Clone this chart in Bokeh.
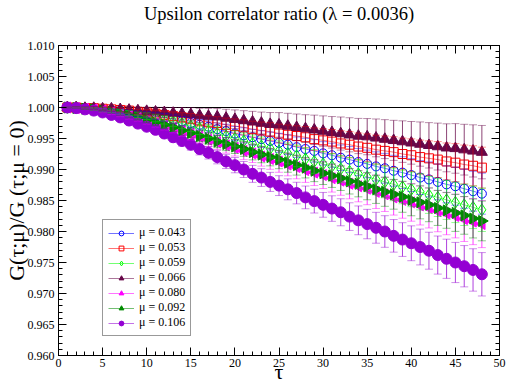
import numpy as np
from bokeh.plotting import figure
from bokeh.models import (ColumnDataSource, Whisker, TeeHead, LinearAxis, Span,
                          Legend, LegendItem, SingleIntervalTicker, PrintfTickFormatter, Range1d,
                          CustomJSTickFormatter)
from bokeh.embed import file_html
from bokeh.resources import INLINE

# ---------------- data ----------------
tau = list(range(1, 49))
series_labels = ["μ = 0.043", "μ = 0.053", "μ = 0.059", "μ = 0.066",
                 "μ = 0.080", "μ = 0.092", "μ = 0.106"]

vals_043 = [1.0000, 1.0000, 0.9999, 0.9998, 0.9997, 0.9996, 0.9994, 0.9992, 0.9990, 0.9988,
            0.9986, 0.9984, 0.9981, 0.9978, 0.9975, 0.9972, 0.9969, 0.9965, 0.9962, 0.9958,
            0.9955, 0.9952, 0.9949, 0.9946, 0.9943, 0.9940, 0.9936, 0.9933, 0.9930, 0.9926,
            0.9923, 0.9919, 0.9916, 0.9912, 0.9909, 0.9905, 0.9902, 0.9898, 0.9895, 0.9891,
            0.9887, 0.9884, 0.9880, 0.9876, 0.9873, 0.9869, 0.9865, 0.9861]
vals_053 = [1.0000, 1.0000, 0.9999, 0.9999, 0.9998, 0.9997, 0.9996, 0.9995, 0.9993, 0.9992,
            0.9990, 0.9988, 0.9986, 0.9984, 0.9982, 0.9979, 0.9977, 0.9975, 0.9972, 0.9970,
            0.9968, 0.9965, 0.9963, 0.9961, 0.9958, 0.9956, 0.9954, 0.9952, 0.9949, 0.9947,
            0.9945, 0.9942, 0.9940, 0.9937, 0.9935, 0.9932, 0.9930, 0.9928, 0.9925, 0.9923,
            0.9920, 0.9918, 0.9916, 0.9913, 0.9911, 0.9908, 0.9906, 0.9903]
vals_059 = [1.0000, 1.0000, 0.9999, 0.9998, 0.9997, 0.9995, 0.9993, 0.9991, 0.9988, 0.9986,
            0.9983, 0.9980, 0.9977, 0.9974, 0.9970, 0.9966, 0.9962, 0.9958, 0.9954, 0.9950,
            0.9946, 0.9942, 0.9938, 0.9934, 0.9930, 0.9926, 0.9922, 0.9917, 0.9913, 0.9909,
            0.9905, 0.9901, 0.9897, 0.9893, 0.9888, 0.9884, 0.9880, 0.9876, 0.9872, 0.9868,
            0.9864, 0.9859, 0.9855, 0.9851, 0.9847, 0.9843, 0.9839, 0.9835]
vals_066 = [1.0000, 1.0000, 0.9999, 0.9999, 0.9998, 0.9998, 0.9997, 0.9996, 0.9995, 0.9994,
            0.9993, 0.9992, 0.9991, 0.9990, 0.9989, 0.9987, 0.9986, 0.9985, 0.9983, 0.9981,
            0.9979, 0.9977, 0.9975, 0.9973, 0.9972, 0.9970, 0.9968, 0.9966, 0.9964, 0.9962,
            0.9960, 0.9958, 0.9956, 0.9954, 0.9953, 0.9951, 0.9949, 0.9947, 0.9945, 0.9943,
            0.9941, 0.9939, 0.9937, 0.9935, 0.9934, 0.9932, 0.9930, 0.9928]
vals_080 = [1.0000, 0.9999, 0.9998, 0.9997, 0.9995, 0.9992, 0.9989, 0.9986, 0.9983, 0.9979,
            0.9975, 0.9971, 0.9967, 0.9962, 0.9957, 0.9953, 0.9948, 0.9944, 0.9939, 0.9935,
            0.9930, 0.9926, 0.9921, 0.9917, 0.9913, 0.9908, 0.9904, 0.9899, 0.9895, 0.9891,
            0.9886, 0.9882, 0.9877, 0.9873, 0.9869, 0.9864, 0.9860, 0.9855, 0.9851, 0.9847,
            0.9842, 0.9838, 0.9833, 0.9829, 0.9825, 0.9820, 0.9816, 0.9812]
vals_092 = [1.0000, 0.9999, 0.9998, 0.9997, 0.9995, 0.9993, 0.9990, 0.9987, 0.9984, 0.9980,
            0.9976, 0.9972, 0.9968, 0.9963, 0.9959, 0.9954, 0.9950, 0.9945, 0.9941, 0.9937,
            0.9933, 0.9928, 0.9924, 0.9920, 0.9916, 0.9911, 0.9907, 0.9903, 0.9898, 0.9894,
            0.9890, 0.9886, 0.9881, 0.9877, 0.9873, 0.9868, 0.9864, 0.9860, 0.9856, 0.9851,
            0.9847, 0.9843, 0.9838, 0.9834, 0.9830, 0.9826, 0.9821, 0.9817]
vals_106 = [1.0000, 0.9999, 0.9997, 0.9995, 0.9992, 0.9988, 0.9984, 0.9979, 0.9974, 0.9969,
            0.9964, 0.9958, 0.9952, 0.9946, 0.9940, 0.9933, 0.9927, 0.9920, 0.9913, 0.9907,
            0.9900, 0.9893, 0.9887, 0.9880, 0.9874, 0.9868, 0.9862, 0.9855, 0.9849, 0.9843,
            0.9837, 0.9831, 0.9824, 0.9818, 0.9812, 0.9806, 0.9800, 0.9793, 0.9787, 0.9781,
            0.9775, 0.9769, 0.9762, 0.9756, 0.9750, 0.9744, 0.9738, 0.9731]

# error bars, in units of 1e-4
err_043 = [0.3, 0.7, 1.2, 1.8, 2.2, 2.7, 3.2, 3.9, 4.4, 5.1, 5.5, 6.2, 7.0, 7.5, 8.4, 8.8,
           9.7, 10.1, 11.0, 11.5, 12.3, 12.8, 13.6, 14.4, 15.3, 15.9, 16.4, 17.3, 18.1, 18.9,
           19.4, 20.6, 21.0, 21.9, 22.3, 23.5, 24.0, 24.9, 25.6, 26.5, 27.3, 28.2, 28.9, 29.8,
           30.6, 31.5, 32.2, 33.1]
err_053 = [0.3, 0.7, 1.3, 1.7, 2.3, 2.6, 3.3, 4.0, 4.3, 5.0, 5.6, 6.3, 6.9, 7.6, 8.3, 8.9,
           9.6, 10.2, 10.9, 11.6, 12.2, 12.9, 13.5, 14.5, 15.2, 15.8, 16.5, 17.2, 18.2, 18.8,
           19.5, 20.5, 21.1, 21.8, 22.4, 23.4, 24.1, 24.8, 25.7, 26.4, 27.4, 28.1, 29.0, 29.7,
           30.7, 31.4, 32.3, 33.0]
err_059 = [0.4, 0.7, 1.4, 1.8, 2.5, 2.8, 3.5, 4.2, 4.6, 5.3, 6.0, 6.7, 7.4, 8.1, 8.8, 9.5,
           10.2, 10.9, 11.6, 12.3, 13.0, 13.7, 14.4, 15.4, 16.1, 16.8, 17.5, 18.2, 19.3, 20.0,
           20.7, 21.7, 22.4, 23.1, 23.8, 24.9, 25.6, 26.3, 27.3, 28.0, 29.1, 29.8, 30.8, 31.5,
           32.6, 33.3, 34.3, 35.0]
err_066 = [0.4, 0.9, 1.7, 2.2, 3.0, 3.4, 4.3, 5.2, 5.6, 6.5, 7.3, 8.2, 9.0, 9.9, 10.8, 11.6,
           12.5, 13.3, 14.2, 15.1, 15.9, 16.8, 17.6, 18.9, 19.8, 20.6, 21.5, 22.4, 23.7, 24.5,
           25.4, 26.7, 27.5, 28.4, 29.2, 30.5, 31.4, 32.3, 33.5, 34.4, 35.7, 36.6, 37.8, 38.7,
           40.0, 40.9, 42.1, 43.0]
err_080 = [0.4, 0.8, 1.5, 1.9, 2.7, 3.0, 3.8, 4.6, 4.9, 5.7, 6.5, 7.2, 8.0, 8.7, 9.5, 10.3,
           11.0, 11.8, 12.5, 13.3, 14.1, 14.8, 15.6, 16.7, 17.5, 18.2, 19.0, 19.8, 20.9, 21.7,
           22.4, 23.6, 24.3, 25.1, 25.8, 27.0, 27.7, 28.5, 29.6, 30.4, 31.5, 32.3, 33.4, 34.2,
           35.3, 36.1, 37.2, 38.0]
err_092 = [0.3, 0.6, 1.3, 1.6, 2.2, 2.6, 3.2, 3.8, 4.2, 4.8, 5.4, 6.1, 6.7, 7.4, 8.0, 8.6,
           9.3, 9.9, 10.6, 11.2, 11.8, 12.5, 13.1, 14.1, 14.7, 15.4, 16.0, 16.6, 17.6, 18.2,
           18.9, 19.8, 20.5, 21.1, 21.8, 22.7, 23.4, 24.0, 25.0, 25.6, 26.6, 27.2, 28.2, 28.8,
           29.8, 30.4, 31.4, 32.0]
err_106 = [0.4, 0.8, 1.3, 1.8, 2.4, 2.9, 3.5, 4.1, 4.6, 5.3, 5.9, 6.7, 7.3, 8.1, 8.7, 9.5,
           10.1, 10.9, 11.5, 12.3, 12.9, 13.7, 14.3, 15.4, 16.0, 16.9, 17.4, 18.3, 19.2, 20.0,
           20.6, 21.8, 22.3, 23.2, 23.7, 24.9, 25.5, 26.3, 27.2, 28.1, 28.9, 29.8, 30.7, 31.6,
           32.4, 33.3, 34.2, 35.0]

title_text = "Upsilon correlator ratio (λ = 0.0036)"
x_label = "τ"
y_label = "G(τ;μ)/G (τ;μ = 0)"

# ---------------- figure ----------------
SERIF = "Liberation Serif"
p = figure(width=508, height=386, output_backend="svg", toolbar_location=None,
           x_range=Range1d(0, 50), y_range=Range1d(0.960, 1.010),
           min_border_left=57, min_border_right=9, min_border_top=45, min_border_bottom=30,
           x_axis_location=None, y_axis_location=None)
p.xgrid.visible = False
p.ygrid.visible = False
p.outline_line_color = "black"
p.outline_line_width = 1
p.background_fill_color = "white"
p.border_fill_color = "white"

p.title.text = title_text
p.title.align = "center"
p.title.text_font = SERIF
p.title.text_font_size = "18.5px"
p.title.text_font_style = "normal"
p.title.text_color = "black"
p.title.standoff = 0


def make_axis(kind, show_labels):
    ax = LinearAxis()
    if kind == "x":
        ax.ticker = SingleIntervalTicker(interval=5, num_minor_ticks=5)
        ax.formatter = PrintfTickFormatter(format="%d")
    else:
        ax.ticker = SingleIntervalTicker(interval=0.005, num_minor_ticks=5)
        ax.formatter = PrintfTickFormatter(format="%.3f")
    ax.axis_line_color = "black"
    ax.major_tick_line_color = "black"
    ax.minor_tick_line_color = "black"
    ax.major_tick_in = 8
    ax.major_tick_out = 0
    ax.minor_tick_in = 4
    ax.minor_tick_out = 0
    ax.major_label_text_font = SERIF
    ax.major_label_text_font_size = "12px"
    ax.major_label_text_color = "black"
    ax.major_label_standoff = 4
    if not show_labels:
        ax.formatter = CustomJSTickFormatter(code="return ''")
        ax.major_label_standoff = 0
    return ax


xb = make_axis("x", True)
xb.major_label_standoff = 3
xb.axis_label = x_label
xb.axis_label_text_font = SERIF
xb.axis_label_text_font_size = "22px"
xb.axis_label_text_font_style = "normal"
xb.axis_label_text_color = "black"
xb.axis_label_standoff = -11
p.add_layout(xb, "below")

xt = make_axis("x", False)
xt.axis_label = " "          # spacer that lifts the title away from the frame
xt.axis_label_text_font_size = "8px"
xt.axis_label_standoff = 10
p.add_layout(xt, "above")

yl = make_axis("y", True)
yl.axis_label = y_label
yl.axis_label_text_font = SERIF
yl.axis_label_text_font_size = "22px"
yl.axis_label_text_font_style = "normal"
yl.axis_label_text_color = "black"
yl.axis_label_standoff = -4
p.add_layout(yl, "left")
p.add_layout(make_axis("y", False), "right")

p.add_layout(Span(location=1.0, dimension="width", line_color="black", line_width=1,
                  level="underlay"))

styles = [
    ("circle", "#0000ff", False, 0.0, 9),
    ("square", "#ff0000", False, 0.0, 9),
    ("diamond", "#00ff00", False, 0.0, 12),
    ("triangle", "#670748", True, 0.0, 11),
    ("triangle", "#ff00ff", True, np.pi / 2, 11),
    ("triangle", "#008b00", True, -np.pi / 2, 11),
    ("circle", "#9400d3", True, 0.0, 11),
]
all_vals = [vals_043, vals_053, vals_059, vals_066, vals_080, vals_092, vals_106]
all_errs = [err_043, err_053, err_059, err_066, err_080, err_092, err_106]

items = []
for lab, v, e, (marker, color, filled, ang, size) in zip(series_labels, all_vals, all_errs, styles):
    v = np.array(v)
    e = np.array(e) * 1e-4
    src = ColumnDataSource(dict(x=tau, y=v, lo=v - e, hi=v + e, ang=[ang] * len(tau)))
    ln = p.line("x", "y", source=src, line_color=color, line_width=1, line_alpha=0.55)
    wk = Whisker(base="x", lower="lo", upper="hi", source=src, level="glyph",
                 line_color=color, line_alpha=0.75, line_width=1,
                 upper_head=TeeHead(size=8, line_color=color, line_alpha=0.45, line_width=1),
                 lower_head=TeeHead(size=8, line_color=color, line_alpha=0.45, line_width=1))
    p.add_layout(wk)
    sc = p.scatter("x", "y", source=src, marker=marker, size=size, angle="ang",
                   line_color=color, line_width=1,
                   fill_color=color if filled else None)
    items.append(LegendItem(label=lab, renderers=[ln, sc]))

legend = Legend(items=items, location=(44, 19), border_line_color="#333333", border_line_width=1,
                background_fill_color="white", background_fill_alpha=1.0,
                label_text_font=SERIF, label_text_font_size="12px", label_text_color="black",
                glyph_width=26, glyph_height=12, label_height=12, spacing=0, padding=5,
                margin=0, label_standoff=5)
p.add_layout(legend)

open("out.html", "w", encoding="utf-8").write(file_html(p, INLINE))
